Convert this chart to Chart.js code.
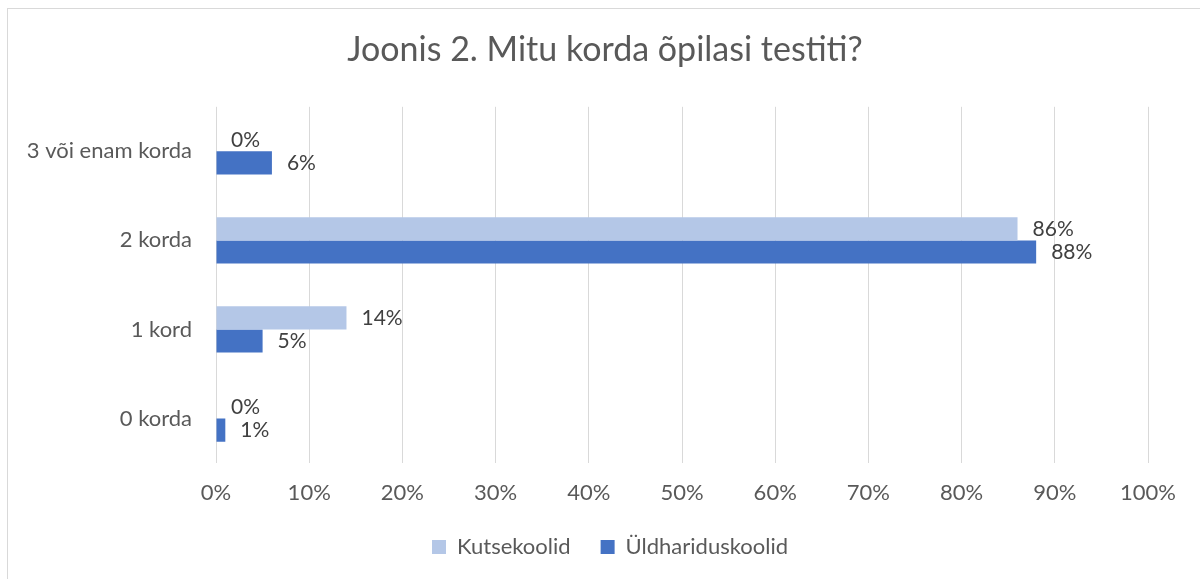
<!DOCTYPE html>
<html>
<head>
<meta charset="utf-8">
<script src="https://cdn.jsdelivr.net/npm/chart.js@4"></script>
<style>
    body { margin: 0; background: white; }
    .plot { position: relative; width: 1200px; height: 579px; }
</style>
</head>
<body>
<div class="plot">
    <canvas id="myChart" width="1200" height="579"></canvas>
</div>
<script>
var categories = ["3 või enam korda", "2 korda", "1 kord", "0 korda"];
var kutsekoolid = [0, 86, 14, 0];
var yldhariduskoolid = [6, 88, 5, 1];
var xTicks = [0, 10, 20, 30, 40, 50, 60, 70, 80, 90, 100];

var fontFamily = "Lato, 'Liberation Sans', sans-serif";
var textGrey = "#595959";

// frame around the whole chart, like the excel chart border
var borderPlugin = {
    id: 'frame',
    beforeDraw: (chart) => {
        let ctx = chart.ctx;
        ctx.save();
        ctx.strokeStyle = "#d9d9d9";
        ctx.lineWidth = 1;
        ctx.strokeRect(7.5, 8.5, 1300, 700);
        ctx.restore();
    }
}

// excel centres title + legend on the whole frame, not on the plot
var centerShift = {
    id: 'centerShift',
    afterLayout: (chart) => {
        chart.titleBlock.left += 31;
        chart.titleBlock.right += 31;
        chart.legend.left += 36;
        chart.legend.right += 36;
    }
}

var valueLabels = {
    id: 'valueLabels',
    afterDatasetsDraw: (chart) => {
        let ctx = chart.ctx;
        ctx.save();
        ctx.font = "21px " + fontFamily;
        ctx.fillStyle = "#404040";
        ctx.textBaseline = "middle";
        ctx.textAlign = "left";
        chart.data.datasets.forEach((ds, i) => {
            let meta = chart.getDatasetMeta(i);
            meta.data.forEach((bar, j) => {
                ctx.fillText(ds.data[j] + "%", bar.x + 15, bar.y);
            });
        });
        ctx.restore();
    }
}

window.onload = () => {
    let ctx = document.getElementById('myChart').getContext('2d');
    let myChart = new Chart(ctx, {
        type: 'bar',
        data: {
            labels: categories,
            datasets: [{
                label: 'Kutsekoolid',
                data: kutsekoolid,
                backgroundColor: '#B4C7E7',
                categoryPercentage: 0.52,
                barPercentage: 1
            },
            {
                label: 'Üldhariduskoolid',
                data: yldhariduskoolid,
                backgroundColor: '#4472C4',
                categoryPercentage: 0.52,
                barPercentage: 1
            }]
        },
        options: {
            indexAxis: 'y',
            responsive: false,
            animation: false,
            layout: {
                padding: { left: 0, right: 52, top: 0, bottom: 11 }
            },
            scales: {
                x: {
                    min: 0,
                    max: 100,
                    afterBuildTicks: (scale) => {
                        scale.ticks = xTicks.map(v => ({ value: v }));
                    },
                    afterFit: (scale) => {
                        scale.height = 43;
                    },
                    ticks: {
                        callback: (v) => v + "%",
                        color: textGrey,
                        font: { family: fontFamily, size: 22 },
                        padding: 17,
                        maxRotation: 0
                    },
                    grid: {
                        color: "#d9d9d9",
                        drawTicks: false
                    },
                    border: { display: false }
                },
                y: {
                    afterFit: (scale) => {
                        scale.width = 216;
                    },
                    ticks: {
                        color: textGrey,
                        font: { family: fontFamily, size: 22 },
                        padding: 24
                    },
                    grid: { display: false, drawTicks: false },
                    border: { display: false }
                }
            },
            plugins: {
                title: {
                    display: true,
                    text: "Joonis 2. Mitu korda õpilasi testiti?",
                    color: textGrey,
                    font: { family: fontFamily, size: 34, weight: 'normal' },
                    padding: { top: 30, bottom: 36 }
                },
                legend: {
                    position: 'bottom',
                    labels: {
                        boxWidth: 14,
                        boxHeight: 14,
                        color: textGrey,
                        font: { family: fontFamily, size: 22 },
                        padding: 30
                    }
                },
                tooltip: { enabled: false }
            }
        },
        plugins: [borderPlugin, centerShift, valueLabels]
    });
}
</script>
</body>
</html>
